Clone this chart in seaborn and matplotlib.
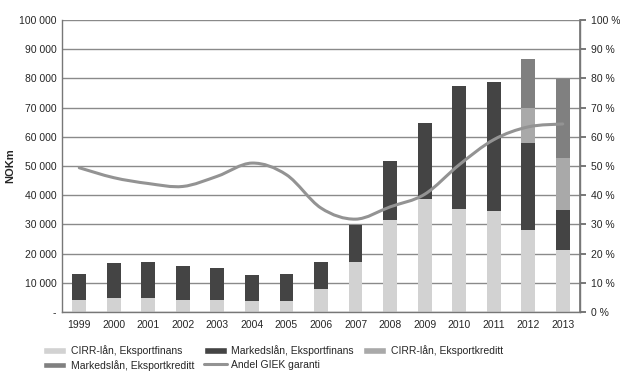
import numpy as np
import pandas as pd
import matplotlib
matplotlib.use("Agg")
import matplotlib.pyplot as plt
from matplotlib.path import Path
from matplotlib.patches import PathPatch, Patch
from matplotlib.lines import Line2D
import seaborn as sns

years = [str(y) for y in range(1999, 2014)]
cirr_ef = [4200, 4900, 4900, 4200, 4200, 3800, 3800, 7800, 17200, 31400, 38700, 35300, 34500, 28100, 21400]
marked_ef = [8800, 11900, 12200, 11400, 10700, 8800, 9100, 9200, 12700, 20200, 25900, 42200, 44300, 29800, 13600]
cirr_ek = [0, 0, 0, 0, 0, 0, 0, 0, 0, 0, 0, 0, 0, 12000, 17700]
marked_ek = [0, 0, 0, 0, 0, 0, 0, 0, 0, 0, 0, 0, 0, 16600, 27100]
andel_giek = [49.4, 46.0, 44.0, 43.0, 46.5, 51.0, 47.0, 35.6, 31.8, 36.0, 40.3, 50.4, 59.0, 63.4, 64.4]

labels = ["CIRR-lån, Eksportfinans", "Markedslån, Eksportfinans",
          "CIRR-lån, Eksportkreditt", "Markedslån, Eksportkreditt", "Andel GIEK garanti"]
colors = ["#d2d2d2", "#444444", "#a9a9a9", "#808080"]
line_color = "#939393"

sns.set_theme(style="white")
plt.rcParams["font.family"] = ["Liberation Sans", "DejaVu Sans"]
plt.rcParams["font.size"] = 7.5

df = pd.DataFrame({"year": years, "c1": cirr_ef, "c2": marked_ef, "c3": cirr_ek, "c4": marked_ek})
cum = df[["c1", "c2", "c3", "c4"]].cumsum(axis=1)

fig = plt.figure(figsize=(6.2, 3.86), dpi=100)
ax = fig.add_axes([62 / 620, 1 - 312 / 386, 518 / 620, 292 / 386])

# draw cumulative totals from the top segment down so each one shows as a stack
for col, c in zip(["c4", "c3", "c2", "c1"], colors[::-1]):
    sns.barplot(x=df["year"], y=cum[col], color=c, saturation=1, width=0.4,
                ax=ax, zorder=2, edgecolor="none")

ax.set_ylim(0, 100000)
ax.set_xlim(-0.45, 14.5)
ax.set_yticks(range(0, 100001, 10000))
ax.set_yticklabels(["-"] + [f"{v:,}".replace(",", " ") for v in range(10000, 100001, 10000)])
ax.yaxis.grid(True, color="#8a8a8a", linewidth=1.0)
ax.set_axisbelow(True)
ax.set_xlabel("")
ax.set_ylabel("NOKm", fontweight="bold", fontsize=8)
ax.yaxis.set_label_coords(-0.09, 0.5)
ax.set_xticks(np.arange(15))
ax.set_xticks(np.arange(-0.5, 15, 1), minor=True)
ax.tick_params(axis="x", which="major", length=0, pad=6, labelsize=7.5)
ax.tick_params(axis="x", which="minor", length=4, color="#666666", direction="out")
ax.tick_params(axis="y", length=0, pad=4, labelsize=7.5)
for s in ["left", "right", "bottom"]:
    ax.spines[s].set_color("#777777")
    ax.spines[s].set_linewidth(1.0)
ax.spines["top"].set_visible(False)

ax2 = ax.twinx()
ax2.set_ylim(0, 100)
ax2.set_yticks(range(0, 101, 10))
ax2.set_yticklabels([f"{v} %" for v in range(0, 101, 10)])
ax2.tick_params(axis="y", length=4, color="#666666", direction="out", pad=4, labelsize=7.5)
ax2.grid(False)
for s in ax2.spines.values():
    s.set_visible(False)
ax2.spines["right"].set_visible(True)
ax2.spines["right"].set_color("#777777")

# smoothed line through the share values (Catmull-Rom as Bezier segments)
xs = np.arange(len(andel_giek), dtype=float)
ys = np.array(andel_giek, dtype=float)
pts = np.column_stack([xs, ys])
verts = [pts[0]]
codes = [Path.MOVETO]
for i in range(len(pts) - 1):
    p0 = pts[i - 1] if i > 0 else pts[i]
    p1, p2 = pts[i], pts[i + 1]
    p3 = pts[i + 2] if i + 2 < len(pts) else pts[i + 1]
    verts += [p1 + (p2 - p0) / 6, p2 - (p3 - p1) / 6, p2]
    codes += [Path.CURVE4] * 3
ax2.add_patch(PathPatch(Path(verts, codes), facecolor="none", edgecolor=line_color,
                        linewidth=2.2, capstyle="round", zorder=3))

h = [Patch(facecolor=colors[0]), Patch(facecolor=colors[1]), Patch(facecolor=colors[2]),
     Patch(facecolor=colors[3]), Line2D([0], [0], color=line_color, linewidth=2.2)]
# legend fills column by column, so reorder to read row by row
order = [0, 3, 1, 4, 2]
fig.legend([h[i] for i in order], [labels[i] for i in order], loc="lower left",
           bbox_to_anchor=(34 / 620, 6 / 386), ncol=3,
           frameon=False, fontsize=7.5, handlelength=2.2, handleheight=0.55,
           columnspacing=0.9, handletextpad=0.45, labelspacing=0.35)

fig.savefig("out.png", dpi=100)
